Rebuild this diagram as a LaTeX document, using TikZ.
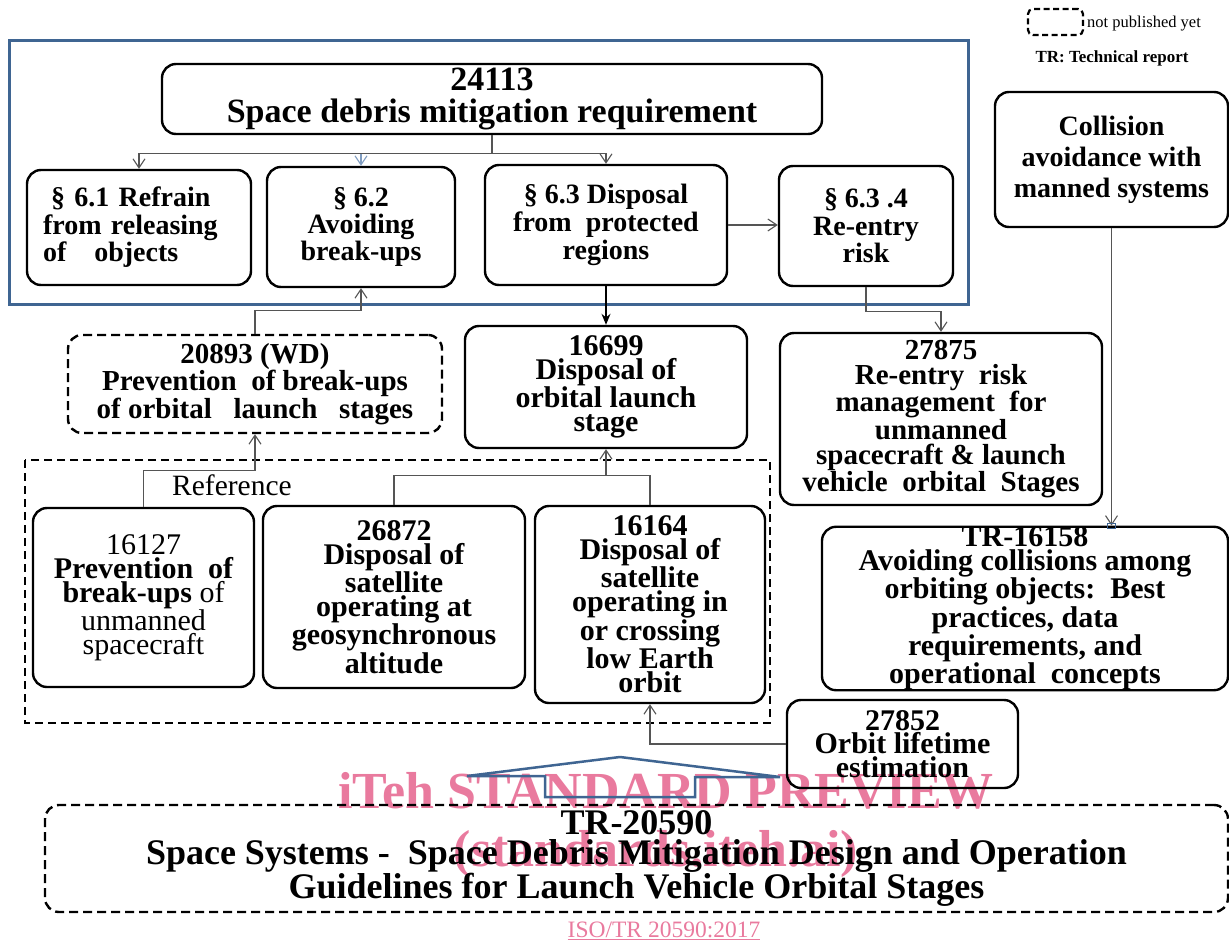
\documentclass[tikz,border=0pt]{standalone}
\usepackage{fontspec}
\setmainfont{Liberation Serif}
\usetikzlibrary{arrows.meta,calc}
\definecolor{linegray}{HTML}{555555}
\definecolor{frameblue}{HTML}{3F6592}
\definecolor{arrblue}{HTML}{7F9CC0}
\definecolor{wmpink}{RGB}{233,122,158}
\tikzset{
  box/.style={draw=black, line width=2.4pt, rounded corners=14pt, align=center, inner sep=0pt},
  dbox/.style={box, dash pattern=on 9pt off 5pt},
  conn/.style={draw=linegray, line width=1.3pt},
  arr/.style={-{Straight Barb[length=9pt,width=12pt,line width=1.1pt]}},
  fthirty/.style={font=\bfseries\fontsize{30}{24}\selectfont},
}
\begin{document}
\begin{tikzpicture}[x=1pt,y=-1pt]
\useasboundingbox (0,0) rectangle (1229,945);

% watermark (below everything)
\node[anchor=base, text=wmpink, font=\bfseries\fontsize{52}{56}\selectfont, inner sep=0] (wm1) at (666,808) {iTeh STANDARD PREVIEW};
\node[anchor=base, text=wmpink, font=\bfseries\fontsize{52}{56}\selectfont, inner sep=0] (wm2) at (656,866) {(standards.iteh.ai)};
\node[anchor=base, text=wmpink, font=\fontsize{23.5}{26}\selectfont, inner sep=0] (iso) at (664,937) {\underline{ISO/TR 20590:2017}};

% legend
\node[draw=black, line width=2.2pt, dash pattern=on 6pt off 3.5pt, rounded corners=5pt, minimum width=55pt, minimum height=26pt, inner sep=0] (lgbox) at (1055.5,22) {};
\node[anchor=base west, font=\fontsize{16.5}{18}\selectfont, inner sep=0] (lg1) at (1087,27) {not published yet};
\node[anchor=base, font=\bfseries\fontsize{17}{18}\selectfont, inner sep=0] (lg2) at (1112,62) {TR: Technical report};

% frames
\draw[draw=frameblue, line width=3pt] (9,40) rectangle (968,304);
\draw[draw=black, line width=1.6pt, dash pattern=on 8pt off 5pt] (25,460) rectangle (770,723);
\node[anchor=base west, font=\fontsize{29.5}{30}\selectfont, inner sep=0] (reflabel) at (172,495) {Reference};

% boxes
\node[box, minimum width=660pt, minimum height=70pt, font=\bfseries\fontsize{34}{32}\selectfont] (b24113) at (492,99) {24113\\Space debris mitigation requirement};
\node[box, minimum width=224pt, minimum height=115pt, text width=192pt, align=left, font=\bfseries\fontsize{28}{27.5}\selectfont] (b61) at (139,227.5) {\hspace*{8pt}§ 6.1 Refrain\\from releasing\\of\ \ \ objects};
\node[box, minimum width=188pt, minimum height=120pt, font=\bfseries\fontsize{28}{27}\selectfont] (b62) at (361,227) {§ 6.2\\Avoiding\\break-ups};
\node[box, minimum width=242pt, minimum height=120pt, font=\bfseries\fontsize{28}{28}\selectfont] (b63) at (606,225) {§ 6.3 Disposal\\from\ \ protected\\regions};
\node[box, minimum width=174pt, minimum height=120pt, font=\bfseries\fontsize{28}{27.5}\selectfont] (b634) at (866,226) {§ 6.3 .4\\Re-entry\\risk};
\node[box, minimum width=233pt, minimum height=135pt, font=\bfseries\fontsize{28}{31}\selectfont] (bcoll) at (1111.5,159.5) {Collision\\avoidance with\\manned systems};

\node[dbox, minimum width=374pt, minimum height=98pt, font=\bfseries\fontsize{29}{24}\selectfont] (b20893) at (255,384) {20893 (WD)\\Prevention\ \ of break-ups\\of orbital\ \ \ launch\ \ \ stages};
\node[box, fthirty, minimum width=282pt, minimum height=122pt] (b16699) at (606,387) {16699\\Disposal of\\orbital launch\\stage};
\node[box, minimum width=322pt, minimum height=172pt, font=\bfseries\fontsize{29}{25}\selectfont] (b27875) at (941,419) {27875\\Re-entry\ \ risk\\management\ \ for\\unmanned\\spacecraft \& launch\\vehicle\ \ orbital\ \ Stages};
\node[box, minimum width=406pt, minimum height=157pt, font=\bfseries\fontsize{30}{23.8}\selectfont] (b16158) at (1025,608.5) {TR-16158\\Avoiding collisions among\\orbiting objects:\ \ Best\\practices, data\\requirements, and\\operational\ \ concepts};

\node[box, fthirty, minimum width=221pt, minimum height=179pt] (b16127) at (143.5,597.5) {\textmd{16127}\\Prevention\ \ of\\break-ups \textmd{of}\\\textmd{unmanned}\\\textmd{spacecraft}};
\node[box, fthirty, minimum width=262pt, minimum height=182pt] (b26872) at (394,597) {26872\\Disposal of\\satellite\\operating at\\geosynchronous\\altitude};
\node[box, fthirty, minimum width=230pt, minimum height=197pt] (b16164) at (650,604.5) {16164\\Disposal of\\satellite\\operating in\\or crossing\\low Earth\\orbit};
\node[box, minimum width=231pt, minimum height=88pt, font=\bfseries\fontsize{30}{23.5}\selectfont] (b27852) at (902.5,744) {27852\\Orbit lifetime\\estimation};

% blue hat shape
\draw[draw=frameblue, line width=2.5pt, line join=miter] (467,776) -- (620,757) -- (780,777) -- (695,777) -- (695,797) -- (545,797) -- (545,776) -- cycle;

\node[dbox, minimum width=1183pt, minimum height=107pt, font=\bfseries\fontsize{36}{30}\selectfont] (b20590) at (636.5,858.5) {TR-20590\\Space Systems -\ \ Space Debris Mitigation Design and Operation\\Guidelines for Launch Vehicle Orbital Stages};

% connectors
\coordinate (j1) at ($(b24113.south)+(0,18)$);
\draw[conn, arr, draw=arrblue] (j1) -| (b62.north);
\draw[conn] (b24113.south) -- (j1);
\draw[conn, arr] (j1) -| (b61.north);
\draw[conn, arr] (j1) -| (b63.north);
\draw[conn, arr] (b63.east) -- (b634.west |- b63.east);
\draw[line width=1.3pt, draw=black, -{Stealth[length=11pt,width=9pt]}] (b63.south) -- (b16699.north);
\draw[conn, arr] (b634.south) -- ++(0,24) -| (b27875.north);
\draw[conn, arr] (bcoll.south) -- (bcoll.south |- b16158.north);
\draw[draw=frameblue, line width=1.5pt] ($(bcoll.south |- b16158.north)+(-4,-2)$) rectangle ($(bcoll.south |- b16158.north)+(4,3)$);
\draw[conn, arr] (b20893.north) -- ++(0,-23) -| (b62.south);
\draw[conn, arr] (b16127.north) -- ++(0,-36) -| (b20893.south);
\coordinate (jm) at ($(b26872.north)+(0,-29)$);
\draw[conn] (b26872.north) -- (jm) -| (b16164.north);
\draw[conn, arr] (b16699.south |- jm) -- (b16699.south);
\draw[conn, arr] (b27852.west) -| (b16164.south);
\end{tikzpicture}
\end{document}
